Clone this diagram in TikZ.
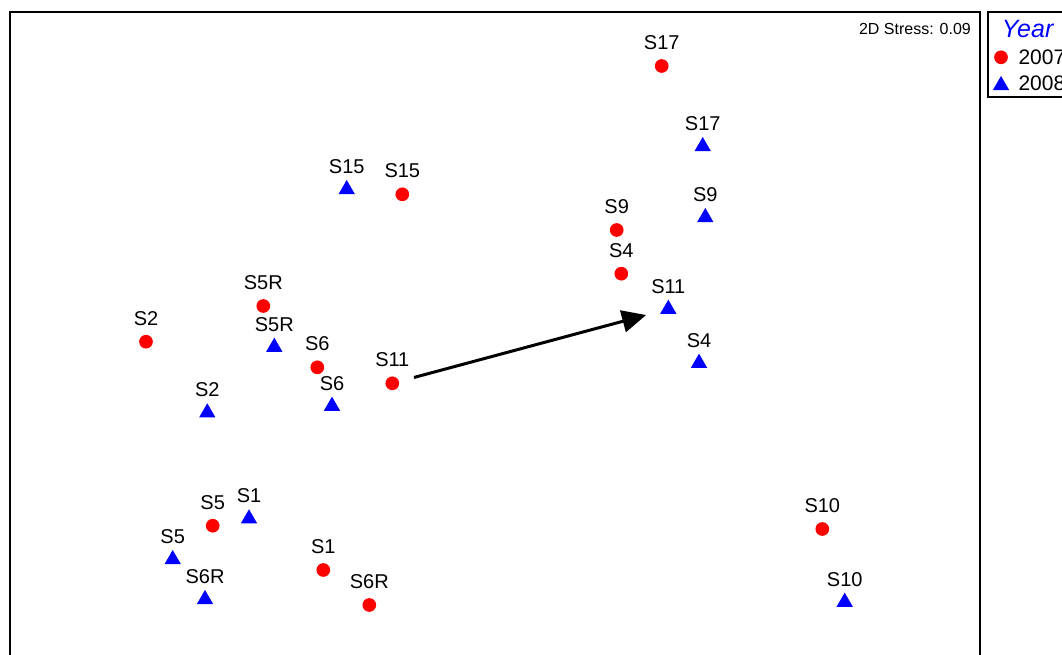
\documentclass[tikz,border=0pt]{standalone}
\usepackage{fontspec}
\setmainfont{Liberation Sans}
\usetikzlibrary{arrows.meta,shapes.geometric}
\definecolor{ptred}{RGB}{255,0,0}
\definecolor{ptblue}{RGB}{0,0,255}
\tikzset{
  rc/.style={circle,fill=ptred,draw=none,inner sep=0pt,minimum size=13.7pt},
  bt/.style={regular polygon,regular polygon sides=3,fill=ptblue,draw=none,inner sep=0pt,minimum size=18.8pt,yshift=-2.35pt},
  lab/.style={anchor=base,inner sep=0pt,font=\fontsize{20}{24}\selectfont},
  frame/.style={draw=black,line width=1.8pt},
  arr/.style={-{Triangle[length=24pt,width=22pt]},line width=3pt,black}
}
\newcommand{\redpt}[3]{\node[rc] (r#1) at (#2,#3) {}; \node[lab] (lr#1) at (#2,#3-16.5) {#1};}
\newcommand{\bluept}[3]{\node[bt] (b#1) at (#2,#3) {}; \node[lab] (lb#1) at (#2,#3-13.5) {#1};}
\begin{document}
\begin{tikzpicture}[x=1pt,y=-1pt]
\clip (0,0) rectangle (1062,655);
\fill[white] (0,0) rectangle (1062,655);
% frames
\draw[frame] (10,12) rectangle (980,680);
\draw[frame] (988,12) rectangle (1080,97);
\node[anchor=base east,inner sep=0pt,font=\fontsize{16}{19}\selectfont] (stress) at (971,35) {2D Stress: 0.09};
% legend
\node[anchor=base west,inner sep=0pt,font=\fontsize{25}{30}\selectfont\itshape,text=ptblue] (ltitle) at (1001.7,37.3) {Year};
\node[rc] (lg1) at (1001,57.3) {};
\node[anchor=base west,inner sep=0pt,font=\fontsize{21}{25}\selectfont] (lt1) at (1018.3,65) {2007};
\node[bt] (lg2) at (1001,83) {};
\node[anchor=base west,inner sep=0pt,font=\fontsize{21}{25}\selectfont] (lt2) at (1018.3,90.7) {2008};
% 2007
\redpt{S17}{661.7}{66}
\redpt{S15}{402.3}{194.3}
\redpt{S9}{616.7}{230}
\redpt{S4}{621.3}{273.7}
\redpt{S5R}{263.3}{306}
\redpt{S2}{146}{341.7}
\redpt{S6}{317.3}{367.3}
\redpt{S11}{392.3}{383.3}
\redpt{S5}{212.7}{525.7}
\redpt{S1}{323.3}{570}
\redpt{S6R}{369.3}{605}
\redpt{S10}{822.3}{529}
% 2008
\bluept{S17}{702.7}{144}
\bluept{S15}{346.7}{187}
\bluept{S9}{705.3}{215}
\bluept{S11}{668.3}{306.7}
\bluept{S5R}{274.3}{344.7}
\bluept{S4}{699}{360.7}
\bluept{S6}{332}{403.7}
\bluept{S2}{207.3}{410.3}
\bluept{S1}{249}{516.3}
\bluept{S5}{172.7}{557}
\bluept{S6R}{205}{597}
\bluept{S10}{844.7}{599.7}
% arrow
\draw[arr,shorten <=22.5pt,shorten >=23pt] (rS11.center) -- (bS11.center);
\end{tikzpicture}
\end{document}
